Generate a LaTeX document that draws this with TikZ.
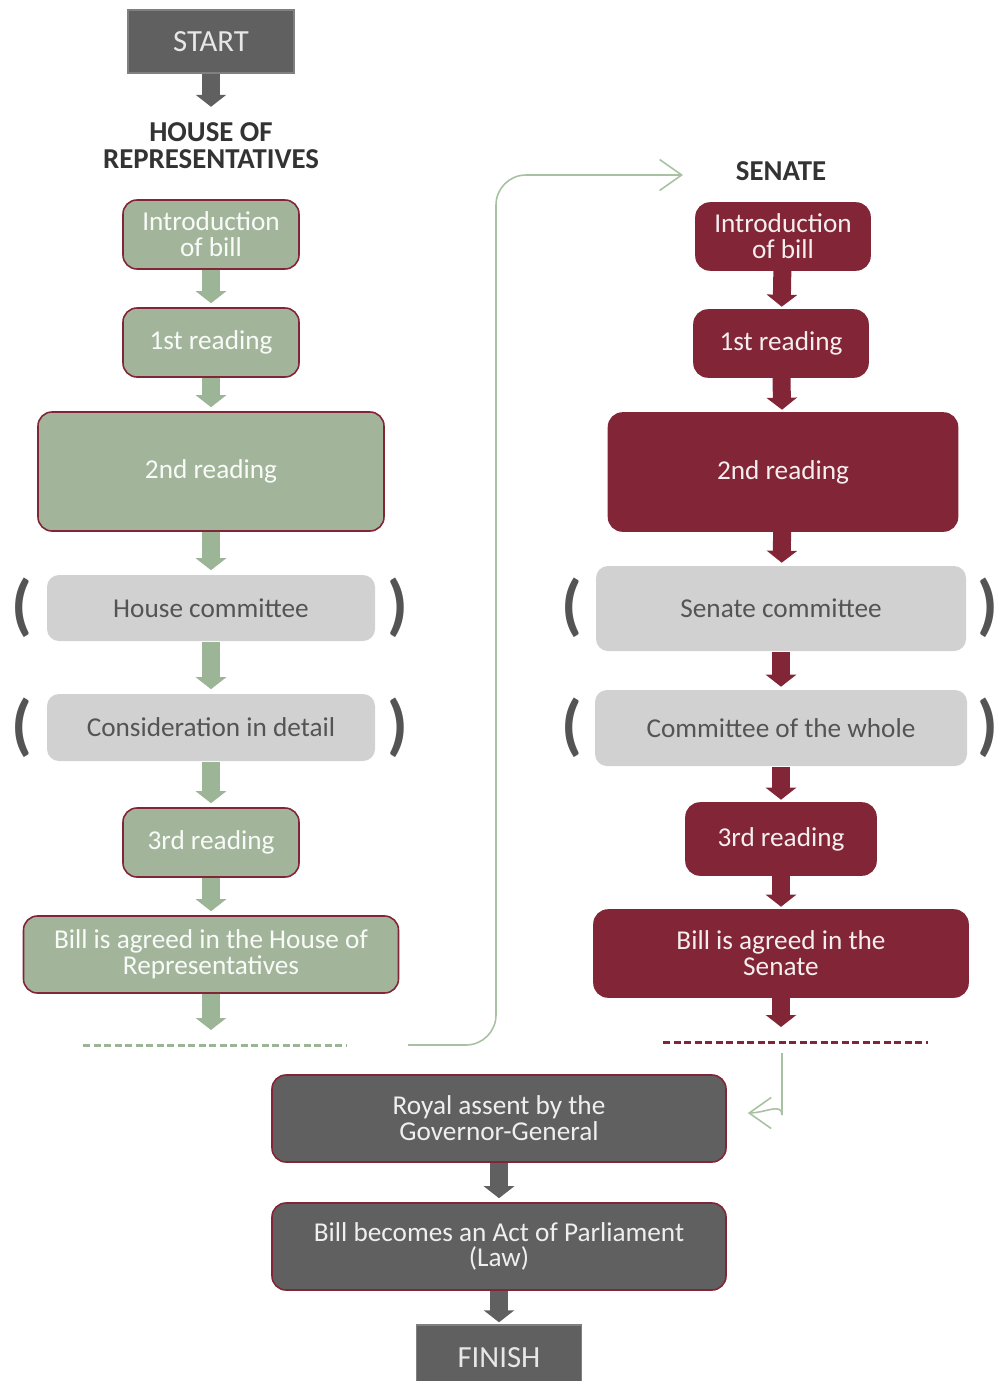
\documentclass[tikz,border=0pt]{standalone}
\usepackage{fontspec}
\setmainfont{Carlito}
\usetikzlibrary{arrows.meta}
\definecolor{sage}{HTML}{A2B59B}
\definecolor{sagearrow}{HTML}{9DB597}
\definecolor{sageline}{HTML}{A9C1A3}
\definecolor{wine}{HTML}{822536}
\definecolor{slate}{HTML}{606060}
\definecolor{mist}{HTML}{D1D1D1}
\definecolor{ink}{HTML}{545454}
\begin{document}
\begin{tikzpicture}[
  box/.style={rounded corners=0.28cm, draw=wine, line width=0.9pt, align=center, inner sep=0pt, font=\fontsize{15.5}{14.7}\selectfont},
  housebox/.style={box, fill=sage, text=white!94!sage},
  senatebox/.style={box, fill=wine, text=white!92!wine},
  finalbox/.style={box, fill=slate, text=white!90!slate},
  cmtbox/.style={box, draw=none, fill=mist, text=ink, rounded corners=0.24cm},
  endbox/.style={draw=gray, line width=0.8pt, fill=slate, text=white!85!slate, inner sep=0pt, font=\fontsize{17.5}{17.5}\selectfont},
  title/.style={align=center, text=black!80, font=\bfseries\fontsize{16.4}{15.3}\selectfont},
  paren/.style={text=ink, inner sep=0pt, font=\bfseries\fontsize{38}{38}\selectfont},
  blockarrow/.style={line width=0.36cm, -{Triangle[width=0.6cm,length=0.24cm]}, shorten >=0.08cm},
  flowline/.style={sageline, line width=0.9pt, rounded corners=0.6cm, -{Straight Barb[length=0.44cm,width=0.62cm]}},
  cutline/.style={line width=1.7pt, dash pattern=on 0.14cm off 0.07cm}
]
\useasboundingbox (0,0) rectangle (19.92,-27.62);
% Start
\node[endbox, minimum width=3.32cm, minimum height=1.26cm] (start) at (4.22,-0.83) {START};
\node[title] (hor) at (4.22,-2.92) {HOUSE OF\\REPRESENTATIVES};
\node[title] (sen) at (15.62,-3.42) {SENATE};
% House of Representatives
\node[housebox, minimum width=3.52cm, minimum height=1.38cm] (hintro) at (4.22,-4.69) {Introduction\\of bill};
\node[housebox, minimum width=3.52cm, minimum height=1.38cm] (hfirst) at (4.22,-6.85) {1st reading};
\node[housebox, minimum width=6.92cm, minimum height=2.38cm] (hsecond) at (4.22,-9.43) {2nd reading};
\node[cmtbox, minimum width=6.56cm, minimum height=1.32cm] (hcmt) at (4.22,-12.16) {House committee};
\node[cmtbox, minimum width=6.56cm, minimum height=1.34cm] (hdetail) at (4.22,-14.55) {Consideration in detail};
\node[housebox, minimum width=3.52cm, minimum height=1.38cm] (hthird) at (4.22,-16.85) {3rd reading};
\node[housebox, minimum width=7.5cm, minimum height=1.54cm] (hagreed) at (4.22,-19.09) {Bill is agreed in the House of\\Representatives};
\coordinate (hcut) at (4.3,-20.9);
% Senate
\node[senatebox, minimum width=3.48cm, minimum height=1.34cm] (sintro) at (15.66,-4.73) {Introduction\\of bill};
\node[senatebox, minimum width=3.48cm, minimum height=1.34cm] (sfirst) at (15.62,-6.87) {1st reading};
\node[senatebox, minimum width=6.98cm, minimum height=2.36cm] (ssecond) at (15.66,-9.44) {2nd reading};
\node[cmtbox, minimum width=7.4cm, minimum height=1.7cm] (scmt) at (15.62,-12.17) {Senate committee};
\node[cmtbox, minimum width=7.44cm, minimum height=1.52cm] (swhole) at (15.62,-14.56) {Committee of the whole};
\node[senatebox, minimum width=3.8cm, minimum height=1.44cm] (sthird) at (15.62,-16.78) {3rd reading};
\node[senatebox, minimum width=7.48cm, minimum height=1.74cm] (sagreed) at (15.62,-19.07) {Bill is agreed in the\\Senate};
\coordinate (scut) at (15.91,-20.84);
% Brackets
\foreach \y/\n in {-12.16/a, -14.55/b} {
  \node[paren] (hl\n) at (0.44,\y) {(};
  \node[paren] (hr\n) at (7.96,\y) {)};
  \node[paren] (sl\n) at (11.44,\y) {(};
  \node[paren] (sr\n) at (19.76,\y) {)};
}
% Final steps
\node[finalbox, minimum width=9.08cm, minimum height=1.74cm] (royal) at (9.98,-22.37) {Royal assent by the\\Governor-General};
\node[finalbox, minimum width=9.08cm, minimum height=1.74cm] (act) at (9.98,-24.93) {Bill becomes an Act of Parliament\\(Law)};
\node[endbox, minimum width=3.3cm, minimum height=1.3cm] (finish) at (9.98,-27.15) {FINISH};
% Arrows
\draw[blockarrow, slate, shorten >=0.2cm] (start) -- (hor);
\foreach \a/\b in {hintro/hfirst, hfirst/hsecond, hsecond/hcmt, hcmt/hdetail, hdetail/hthird, hthird/hagreed}
  \draw[blockarrow, sagearrow] (\a) -- (\b);
\draw[blockarrow, sagearrow, shorten >=0.3cm] (hagreed.south) -- (hagreed.south |- hcut);
\foreach \a/\b in {sintro/sfirst, sfirst/ssecond, ssecond/scmt, scmt/swhole, swhole/sthird, sthird/sagreed}
  \draw[blockarrow, wine, shorten >=0.05cm] (\a) -- (\b);
\draw[blockarrow, wine, shorten >=0.3cm] (sagreed.south) -- (sagreed.south |- scut);
\draw[blockarrow, slate] (royal) -- (act);
\draw[blockarrow, slate, shorten >=0.04cm] (act) -- (finish);
% Dashed lines
\draw[cutline, sagearrow] ([xshift=-2.64cm]hcut) -- ([xshift=2.64cm]hcut);
\draw[cutline, wine] ([xshift=-2.65cm]scut) -- ([xshift=2.65cm]scut);
% Passage
\coordinate (hout) at (8.16,-20.9);
\coordinate (sin) at (13.66,-3.5);
\coordinate (sout) at (15.64,-21.06);
\draw[flowline] (hout) -- ++(1.76,0) |- (sin);
\draw[flowline] (sout) -- ++(0,-0.64) to[out=-90,in=0] ([xshift=0.42cm,yshift=0.11cm]royal.east);
\end{tikzpicture}
\end{document}
